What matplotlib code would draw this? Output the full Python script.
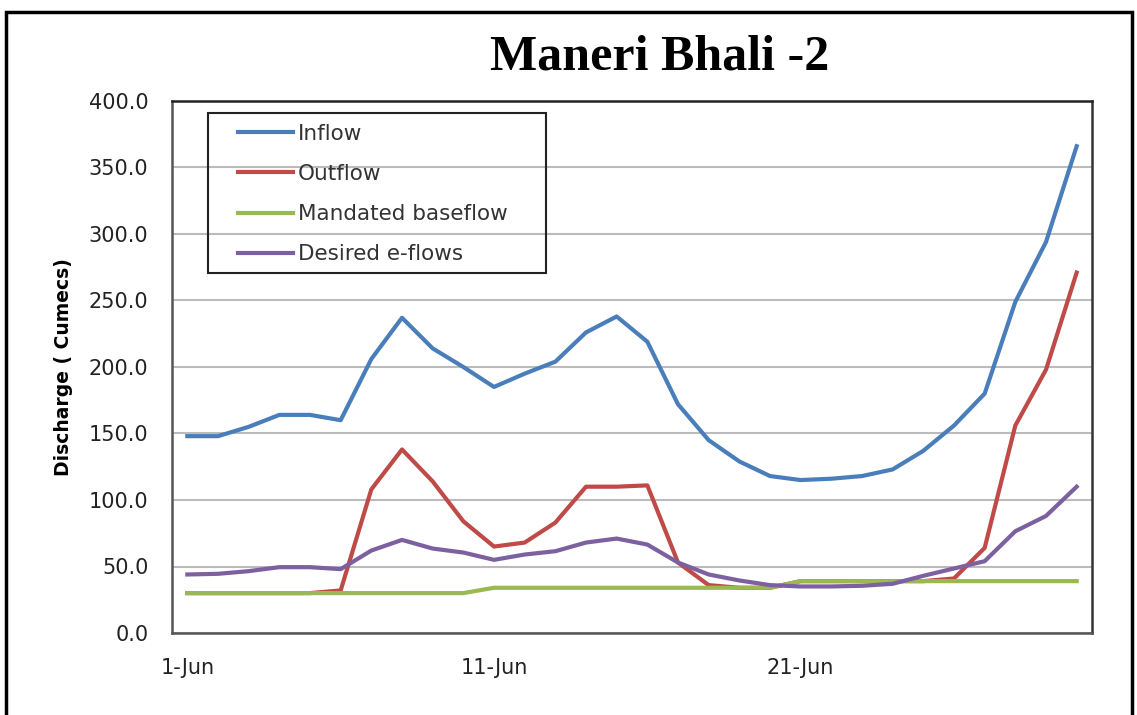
import matplotlib
matplotlib.use("Agg")
import matplotlib.pyplot as plt
from matplotlib.patches import Rectangle

days = list(range(1, 31))
tick_days = [1, 11, 21]
tick_labels = ["1-Jun", "11-Jun", "21-Jun"]

inflow = [148, 148, 155, 164, 164, 160, 206, 237, 214, 200,
          185, 195, 204, 226, 238, 219, 172, 145, 129, 118,
          115, 116, 118, 123, 137, 156, 180, 249, 294, 366]
outflow = [30, 30, 30, 30, 30, 32, 108, 138, 114, 84,
           65, 68, 83, 110, 110, 111, 53, 36, 34, 34,
           39, 39, 39, 39, 39, 41, 64, 156, 198, 271]
baseflow = [30, 30, 30, 30, 30, 30, 30, 30, 30, 30,
            34, 34, 34, 34, 34, 34, 34, 34, 34, 34,
            39, 39, 39, 39, 39, 39, 39, 39, 39, 39]
eflows = [44, 44.5, 46.5, 49.5, 49.5, 48, 62, 70, 63.5, 60.5,
          55, 59, 61.5, 68, 71, 66.5, 53, 44, 39.5, 36,
          35, 35, 35.5, 37, 43, 48.5, 54, 76.5, 88, 110]

W, H = 1137, 715
fig = plt.figure(figsize=(W / 100, H / 100), dpi=100)
ax = fig.add_axes([172 / W, 1 - 633 / H, (1092 - 172) / W, (633 - 101) / H])

lw = 3.0
ax.plot(days, inflow, color="#4A7EBB", lw=lw, label="Inflow", solid_joinstyle="round")
ax.plot(days, outflow, color="#BE4B48", lw=lw, label="Outflow", solid_joinstyle="round")
ax.plot(days, baseflow, color="#98B954", lw=lw, label="Mandated baseflow", solid_joinstyle="round")
ax.plot(days, eflows, color="#7D60A0", lw=lw, label="Desired e-flows", solid_joinstyle="round")

ax.set_xlim(0.5, 30.5)
ax.set_ylim(0, 400)
ax.set_yticks(range(0, 401, 50))
ax.set_yticklabels([f"{v:.1f}" for v in range(0, 401, 50)])
ax.set_xticks(tick_days)
ax.set_xticklabels(tick_labels)
ax.tick_params(axis="both", length=0, labelsize=15, labelcolor="#222222")
ax.tick_params(axis="y", pad=17)
ax.tick_params(axis="x", pad=18)
ax.grid(axis="y", color="#BBBBBB", lw=1.5)
ax.set_axisbelow(True)
for s in ax.spines.values():
    s.set_color("#555555")
    s.set_linewidth(1.8)
ax.spines["top"].set_color("#222222")
ax.spines["right"].set_color("#333333")

ax.set_ylabel("Discharge ( Cumecs)", fontsize=13.5, fontweight="bold",
              family="DejaVu Sans", labelpad=0)
ax.yaxis.set_label_coords((73 - 172) / (1092 - 172), 0.5)

leg = ax.legend(loc="upper left",
                bbox_to_anchor=((238 - 172) / 920, 1 - (124 - 101) / 532),
                frameon=False, fontsize=15.5,
                handlelength=2.55, handletextpad=0.22, labelspacing=0.93,
                borderpad=0, borderaxespad=0)
for t in leg.get_texts():
    t.set_color("#333333")

ax.add_patch(Rectangle((208 / W, 1 - 273 / H), (546 - 208) / W, (273 - 113) / H,
                       transform=fig.transFigure, fill=False,
                       edgecolor="#222222", lw=1.5, zorder=5, clip_on=False))

fig.text(660 / W, 1 - 70 / H, "Maneri Bhali -2", ha="center", va="baseline",
         fontsize=36, fontweight="bold", family="Liberation Serif")

fig.patches.append(Rectangle((6 / W, -0.01), (1132 - 6) / W, (H - 12) / H + 0.01,
                             transform=fig.transFigure, fill=False,
                             edgecolor="black", lw=2.5))

fig.savefig("out.png", dpi=100)
